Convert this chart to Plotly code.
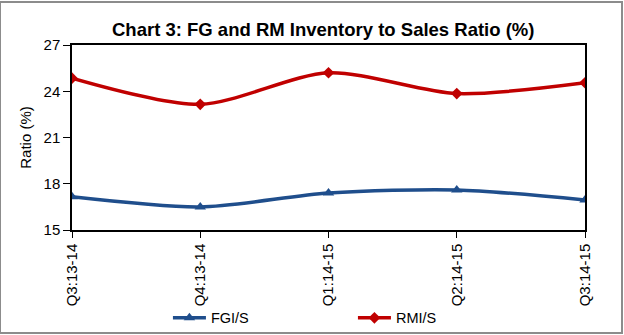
import plotly.graph_objects as go

categories = ["Q3:13-14", "Q4:13-14", "Q1:14-15", "Q2:14-15", "Q3:14-15"]
fgi_s = [17.15, 16.5, 17.4, 17.6, 16.95]
rmi_s = [24.85, 23.15, 25.2, 23.85, 24.55]
y_ticks = [15, 18, 21, 24, 27]

fig = go.Figure()
fig.add_trace(go.Scatter(
    x=categories, y=fgi_s, name="FGI/S", mode="lines+markers",
    line=dict(color="#1F4E8C", width=3.5, shape="spline", smoothing=0.8),
    marker=dict(symbol="triangle-up", size=10, color="#1F4E8C"),
))
fig.add_trace(go.Scatter(
    x=categories, y=rmi_s, name="RMI/S", mode="lines+markers",
    line=dict(color="#C00000", width=3.5, shape="spline", smoothing=0.8),
    marker=dict(symbol="diamond", size=9, color="#C00000"),
))

font_family = "Liberation Sans, Arial, sans-serif"
fig.update_layout(
    width=624, height=335,
    margin=dict(l=72, r=39, t=45, b=105, autoexpand=False),
    paper_bgcolor="white", plot_bgcolor="white",
    font=dict(family=font_family, size=15, color="black"),
    title=dict(text="<b>Chart 3: FG and RM Inventory to Sales Ratio (%)</b>",
               x=0.518, xanchor="center", y=0.913, yanchor="middle",
               font=dict(size=18.5, family=font_family, color="black")),
    showlegend=True,
    legend=dict(orientation="h", x=0.187, xanchor="left", y=-0.475, yanchor="middle",
                font=dict(size=14.5), entrywidth=137, itemwidth=33,
                bgcolor="rgba(0,0,0,0)"),
    shapes=[dict(type="rect", xref="paper", yref="paper",
                 x0=-72/513, x1=1+37/513, y0=-103/185, y1=1+43/185,
                 line=dict(color="#8c8c8c", width=2))],
)
fig.update_xaxes(
    type="category", range=[0, 4], showline=True, linecolor="black", linewidth=1.5,
    mirror=True, ticks="outside", ticklen=6, tickcolor="black", tickangle=-90,
    tickfont=dict(size=15), showgrid=False,
)
fig.update_yaxes(
    range=[15, 27], tickvals=y_ticks, showline=True, linecolor="black", linewidth=1.5,
    mirror=True, ticks="outside", ticklen=7, tickcolor="black",
    tickfont=dict(size=15), showgrid=False, zeroline=False,
    title=dict(text="Ratio (%)", font=dict(size=15), standoff=8),
)
fig.write_html("out.html")
